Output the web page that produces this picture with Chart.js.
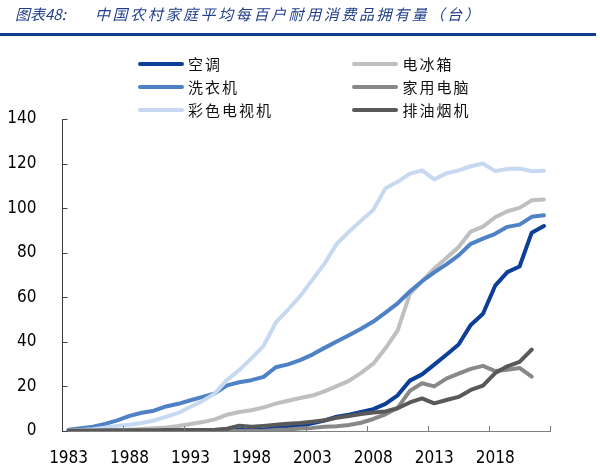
<!DOCTYPE html>
<html>
<head>
<meta charset="utf-8">
<script src="https://cdn.jsdelivr.net/npm/chart.js@4.4.1/dist/chart.umd.min.js"></script>
<style>
  html, body { margin:0; padding:0; background:#fff; }
  #wrap { position:relative; width:600px; height:467px; overflow:hidden; }
  #c { position:absolute; left:0; top:0; }
  #title { position:absolute; left:15px; top:4px; font:italic 15px "Noto Sans CJK SC", sans-serif; color:#223F8C; white-space:nowrap; line-height:20px; }
  #title .rest { position:absolute; left:80px; top:0; letter-spacing:2.6px; }
  #rule { position:absolute; left:0; top:32.5px; width:596px; height:3px; background:#0E3C8C; }
  .lg-line { position:absolute; width:46px; height:4px; border-radius:2px; }
  .lg-text { position:absolute; font:15px "Noto Sans CJK SC", sans-serif; color:#111; letter-spacing:2px; line-height:20px; white-space:nowrap; }
</style>
</head>
<body>
<div id="wrap">
  <canvas id="c" width="600" height="467"></canvas>
  <div id="title">图表48:<span class="rest">中国农村家庭平均每百户耐用消费品拥有量（台）</span></div>
  <div id="rule"></div>
  <div id="legend"></div>
</div>
<script>
const years = ['1983','1984','1985','1986','1987','1988','1989','1990','1991','1992',
               '1993','1994','1995','1996','1997','1998','1999','2000','2001','2002',
               '2003','2004','2005','2006','2007','2008','2009','2010','2011','2012',
               '2013','2014','2015','2016','2017','2018','2019','2020','2021','2022'];
const yTicks = [0, 20, 40, 60, 80, 100, 120, 140];

const airCon = [0,0,0,0,0,0,0,0,0,0,
                0,0,0.2,0.3,0.4,0.6,0.7,1.3,1.7,2.3,
                3.5,4.7,6.4,7.3,8.5,9.8,12.2,16.0,22.6,25.4,
                29.8,34.2,38.8,47.6,52.6,65.2,71.3,73.8,89.0,92.0];
const fridge = [0,0,0.1,0.2,0.3,0.6,0.9,1.2,1.6,2.2,
                3.1,4.0,5.2,7.3,8.5,9.3,10.6,12.3,13.6,14.8,
                15.9,17.8,20.1,22.5,26.1,30.2,37.1,45.2,61.5,67.3,
                72.9,77.6,82.6,89.5,91.7,95.9,98.6,100.1,103.5,103.9];
const washer = [0.6,1.2,1.9,3.2,4.8,6.8,8.2,9.1,11.0,12.2,
                13.8,15.3,16.9,20.5,21.9,22.8,24.3,28.6,29.9,31.8,
                34.3,37.3,40.2,43.0,45.9,49.1,53.1,57.3,62.6,67.2,
                71.2,74.8,78.8,84.0,86.3,88.5,91.6,92.6,96.1,96.8];
const computer = [0,0,0,0,0,0,0,0,0,0,
                  0,0,0,0,0,0,0,0.5,0.7,1.1,
                  1.4,1.9,2.1,2.7,3.7,5.4,7.5,10.4,18.0,21.4,
                  20.0,23.5,25.7,27.9,29.2,26.9,27.5,28.3,24.4,null];
const colorTV = [0.3,0.5,0.8,1.5,2.3,2.8,3.6,4.7,6.4,8.1,
                 10.9,13.5,16.9,22.9,27.3,32.6,38.2,48.7,54.4,60.5,
                 67.8,75.1,84.0,89.4,94.4,99.2,108.9,111.8,115.5,116.9,
                 112.9,115.6,116.9,118.8,120.0,116.6,117.6,117.8,116.6,116.8];
const hood = [0.2,0.2,0.2,0.3,0.3,0.3,0.3,0.3,0.4,0.4,
              0.4,0.5,0.6,1.0,2.4,1.9,2.3,2.8,3.2,3.6,
              4.2,4.8,5.9,6.7,7.6,8.3,8.8,10.2,12.8,14.6,
              12.4,13.9,15.3,18.4,20.4,26.0,29.0,31.0,36.5,null];

const series = [
  { label:'空调',     data:airCon,   color:'#0D3F98', col:0, row:0 },
  { label:'电冰箱',   data:fridge,   color:'#BFBFBF', col:1, row:0 },
  { label:'洗衣机',   data:washer,   color:'#4F81C7', col:0, row:1 },
  { label:'家用电脑', data:computer, color:'#888888', col:1, row:1 },
  { label:'彩色电视机', data:colorTV, color:'#C6D9F0', col:0, row:2 },
  { label:'排油烟机', data:hood,     color:'#595959', col:1, row:2 }
];

const inTicks = {
  id:'inTicks',
  afterDraw(chart){
    const {ctx, chartArea:a} = chart;
    const xs = chart.scales.x, ys = chart.scales.y;
    ctx.save();
    ctx.lineWidth = 1;
    ctx.strokeStyle = '#444';
    yTicks.forEach(v => {
      const py = Math.round(ys.getPixelForValue(v)) + 0.5;
      ctx.beginPath(); ctx.moveTo(a.left, py); ctx.lineTo(a.left + 5, py); ctx.stroke();
    });
    ctx.strokeStyle = '#777';
    for (let i = 5; i <= years.length; i += 5) {
      let px = i < years.length ? (xs.getPixelForValue(i - 1) + xs.getPixelForValue(i)) / 2 : a.right;
      px = Math.round(px) + 0.5;
      ctx.beginPath(); ctx.moveTo(px, a.bottom); ctx.lineTo(px, a.bottom - 5); ctx.stroke();
    }
    ctx.restore();
  }
};

const tickFont = { family:'"DejaVu Sans Condensed", "Liberation Sans", sans-serif', size:17 };

new Chart(document.getElementById('c'), {
  type:'line',
  data:{
    labels: years,
    datasets: series.map((s, i) => ({
      label:s.label, data:s.data, borderColor:s.color, backgroundColor:s.color,
      borderWidth:4, pointRadius:0, tension:0, fill:false,
      borderJoinStyle:'round', borderCapStyle:'round',
      order: series.length - i, spanGaps:false
    }))
  },
  options:{
    responsive:false, animation:false, devicePixelRatio:1,
    layout:{ padding:{ top:119, right:50, left:0, bottom:0 } },
    plugins:{ legend:{display:false}, tooltip:{enabled:false}, title:{display:false} },
    scales:{
      x:{
        type:'category', offset:true,
        grid:{ display:false },
        border:{ display:true, color:'#7f7f7f', width:1 },
        ticks:{
          autoSkip:false, maxRotation:0, minRotation:0, padding:9, color:'#000', font:tickFont,
          callback:(v, i) => (i % 5 === 0 ? years[i] : '')
        },
        afterFit:(s) => { s.height = 36; }
      },
      y:{
        min:0, max:140,
        grid:{ display:false },
        border:{ display:true, color:'#3a3a3a', width:1 },
        ticks:{ stepSize:20, padding:18, color:'#000', font:tickFont },
        afterFit:(s) => { s.width = 62.5; }
      }
    }
  },
  plugins:[inTicks]
});

const lg = document.getElementById('legend');
const colLine = [138, 352], colText = [188, 402.5], rowY = [64, 86.7, 110];
series.forEach(s => {
  const l = document.createElement('div');
  l.className = 'lg-line';
  l.style.left = colLine[s.col] + 'px';
  l.style.top = (rowY[s.row] - 2) + 'px';
  l.style.background = s.color;
  lg.appendChild(l);
  const t = document.createElement('div');
  t.className = 'lg-text';
  t.style.left = colText[s.col] + 'px';
  t.style.top = (rowY[s.row] - 10) + 'px';
  t.textContent = s.label;
  lg.appendChild(t);
});
</script>
</body>
</html>
